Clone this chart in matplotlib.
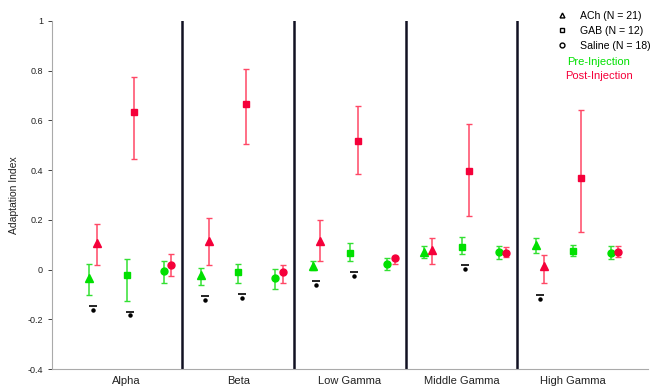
import numpy as np
import matplotlib
matplotlib.use('Agg')
import matplotlib.pyplot as plt
from matplotlib.lines import Line2D

plt.rcParams['font.family'] = ['Liberation Sans', 'DejaVu Sans']

## data
bands = ['Alpha', 'Beta', 'Low Gamma', 'Middle Gamma', 'High Gamma']
groups = ['ACh', 'GAB', 'Saline']
group_n = [21, 12, 18]
group_markers = ['^', 's', 'o']

# pre-injection: mean, upper, lower (rows = bands, cols = groups)
pre_mean = [[-0.035, -0.021, -0.004],
            [-0.020, -0.011, -0.032],
            [0.016, 0.066, 0.024],
            [0.072, 0.091, 0.070],
            [0.098, 0.074, 0.067]]
pre_hi = [[0.022, 0.044, 0.036],
          [0.008, 0.022, 0.003],
          [0.034, 0.106, 0.046],
          [0.097, 0.133, 0.095],
          [0.126, 0.098, 0.095]]
pre_lo = [[-0.100, -0.125, -0.052],
          [-0.061, -0.052, -0.077],
          [0.000, 0.035, 0.000],
          [0.047, 0.063, 0.044],
          [0.066, 0.056, 0.043]]

# post-injection
post_mean = [[0.107, 0.635, 0.020],
             [0.114, 0.667, -0.009],
             [0.114, 0.516, 0.046],
             [0.080, 0.398, 0.068],
             [0.015, 0.367, 0.070]]
post_hi = [[0.183, 0.774, 0.063],
           [0.206, 0.805, 0.020],
           [0.200, 0.659, 0.056],
           [0.129, 0.586, 0.090],
           [0.060, 0.640, 0.095]]
post_lo = [[0.020, 0.443, -0.025],
           [0.020, 0.506, -0.052],
           [0.035, 0.383, 0.023],
           [0.022, 0.214, 0.050],
           [-0.055, 0.150, 0.050]]

# black markers (dash over dot), None = not shown
sig_bar = [[-0.145, -0.169, None],
           [-0.104, -0.096, None],
           [-0.047, -0.011, None],
           [None, 0.020, None],
           [-0.100, None, None]]
sig_dot = [[-0.162, -0.182, None],
           [-0.122, -0.112, None],
           [-0.060, -0.025, None],
           [None, 0.003, None],
           [-0.116, None, None]]

yticks = [-0.4, -0.2, 0, 0.2, 0.4, 0.6, 0.8, 1]
ytick_labels = ['-0.4', '-0.2', '0', '0.2', '0.4', '0.6', '0.8', '1']

green = '#00e000'
red = '#f5003a'
group_offset = [-1/3, 0, 1/3]
post_shift = 0.068
marker_size = {'^': 5.2, 's': 4.0, 'o': 5.0}

fig = plt.figure(figsize=(6.51, 3.87), dpi=100)
ax = fig.add_axes([0.080, 0.046, 0.915, 0.900])

pre_mean, pre_hi, pre_lo = np.array(pre_mean), np.array(pre_hi), np.array(pre_lo)
post_mean, post_hi, post_lo = np.array(post_mean), np.array(post_hi), np.array(post_lo)

for i in range(len(bands)):
    for j in range(len(groups)):
        x = i + 1 + group_offset[j]
        ms = marker_size[group_markers[j]]
        # pre
        ax.errorbar(x, pre_mean[i, j],
                    yerr=[[pre_mean[i, j] - pre_lo[i, j]], [pre_hi[i, j] - pre_mean[i, j]]],
                    fmt=group_markers[j], color=green, ecolor='#33e033', elinewidth=1.1,
                    capsize=2.2, capthick=1.0, ms=ms, mec=green, zorder=3)
        # post
        ax.errorbar(x + post_shift, post_mean[i, j],
                    yerr=[[post_mean[i, j] - post_lo[i, j]], [post_hi[i, j] - post_mean[i, j]]],
                    fmt=group_markers[j], color=red, ecolor='#ff4866', elinewidth=1.1,
                    capsize=2.2, capthick=1.0, ms=ms, mec=red, zorder=3)
        # black dash + dot
        if sig_bar[i][j] is not None:
            xs = x + post_shift / 2
            ax.plot(xs, sig_bar[i][j], marker='_', color='black', ms=6, mew=1.2, zorder=3)
            ax.plot(xs, sig_dot[i][j], marker='o', color='black', ms=2.2, zorder=3)

# separators between bands
for k in range(1, len(bands)):
    ax.axvline(k + 0.5, color='#111122', lw=1.8, zorder=2)

ax.set_xlim(1/3, 5 + 2/3)
ax.set_ylim(-0.4, 1)
ax.set_yticks(yticks)
ax.set_yticklabels(ytick_labels)
ax.set_xticks(range(1, len(bands) + 1))
ax.set_xticklabels(bands)
ax.tick_params(axis='x', length=0, labelsize=8, pad=5, colors='#222222')
ax.tick_params(axis='y', length=3, labelsize=6.5, colors='#222222', direction='out', width=0.6)
for s in ['top', 'right']:
    ax.spines[s].set_visible(False)
for s in ['left', 'bottom']:
    ax.spines[s].set_color('#aaaaaa')
    ax.spines[s].set_linewidth(0.8)
ax.set_ylabel('Adaptation Index', fontsize=7.5, color='#222222', labelpad=6)

# legend
handles = [Line2D([], [], ls='none', marker=m, mfc='none', mec='black', ms=3.5, mew=1)
           for m in group_markers]
labels = [g + ' (N = ' + str(n) + ')' for g, n in zip(groups, group_n)]
leg = ax.legend(handles, labels, loc='upper right', bbox_to_anchor=(1.012, 1.040),
                frameon=False, fontsize=7.6, handlelength=1, handletextpad=1.2,
                labelspacing=0.45, borderaxespad=0)
fig.text(0.920, 0.840, 'Pre-Injection', color=green, fontsize=8, ha='center', va='center')
fig.text(0.920, 0.803, 'Post-Injection', color=red, fontsize=8, ha='center', va='center')

fig.savefig('out.png', dpi=100)
